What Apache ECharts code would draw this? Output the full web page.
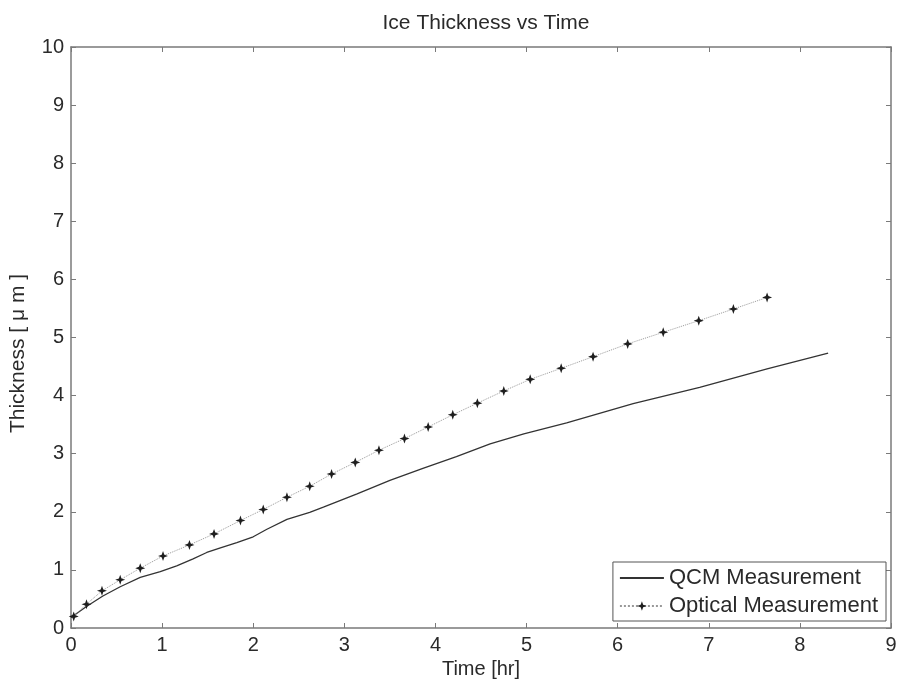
<!DOCTYPE html>
<html>
<head>
<meta charset="utf-8">
<script src="https://cdn.jsdelivr.net/npm/echarts@6/dist/echarts.min.js"></script>
<style>
  html, body { margin: 0; padding: 0; background: #fff; }
  #chart { width: 899px; height: 681px; }
</style>
</head>
<body>
<div id="chart"></div>
<script>
// QCM measurement (solid line)
const qcmTime = [0, 0.17, 0.35, 0.54, 0.76, 0.98, 1.16, 1.34, 1.49, 1.64, 1.82, 2.0, 2.15, 2.37, 2.62, 2.77, 3.14, 3.5, 3.87, 4.23, 4.6, 4.97, 5.44, 6.17, 6.9, 7.64, 8.31];
const qcmThickness = [0.18, 0.37, 0.55, 0.71, 0.87, 0.97, 1.07, 1.19, 1.3, 1.38, 1.47, 1.57, 1.7, 1.87, 1.99, 2.08, 2.31, 2.54, 2.75, 2.95, 3.17, 3.34, 3.53, 3.86, 4.14, 4.46, 4.73];

// Optical measurement (dotted line with markers)
const optTime = [0.03, 0.17, 0.34, 0.54, 0.76, 1.01, 1.3, 1.57, 1.86, 2.11, 2.37, 2.62, 2.86, 3.12, 3.38, 3.66, 3.92, 4.19, 4.46, 4.75, 5.04, 5.38, 5.73, 6.11, 6.5, 6.89, 7.27, 7.64];
const optThickness = [0.2, 0.41, 0.64, 0.83, 1.03, 1.24, 1.43, 1.62, 1.85, 2.04, 2.25, 2.44, 2.65, 2.85, 3.06, 3.26, 3.46, 3.67, 3.87, 4.08, 4.28, 4.47, 4.67, 4.89, 5.09, 5.29, 5.49, 5.69];

const xTicks = [0, 9, 1];
const yTicks = [0, 10, 1];

const font = '"Liberation Sans", Arial, sans-serif';
const axisColor = '#7a7a7a';
const textColor = '#2a2a2a';

const chart = echarts.init(document.getElementById('chart'));

const boxAxis = (extra) => Object.assign({
  type: 'value',
  axisLine: { show: true, onZero: false, lineStyle: { color: axisColor, width: 1.5 } },
  axisTick: { show: true, inside: true, length: 5, lineStyle: { color: axisColor } },
  splitLine: { show: false }
}, extra);

const option = {
  backgroundColor: '#fff',
  animation: false,
  title: {
    text: 'Ice Thickness vs Time',
    left: 481,
    textAlign: 'center',
    top: 8,
    textStyle: { fontFamily: font, fontSize: 21, fontWeight: 'normal', color: textColor }
  },
  grid: { left: 71, right: 8, top: 47, bottom: 53, outerBoundsMode: 'none', containLabel: false },
  legend: {
    orient: 'vertical',
    right: 13,
    bottom: 60,
    itemWidth: 44,
    itemHeight: 12,
    itemGap: 6,
    padding: [5, 8, 4, 6],
    borderColor: '#555',
    borderWidth: 1,
    borderRadius: 0,
    backgroundColor: '#fff',
    textStyle: { fontFamily: font, fontSize: 22, color: textColor },
    data: [
      { name: 'QCM Measurement', itemStyle: { opacity: 0 } },
      { name: 'Optical Measurement' }
    ]
  },
  xAxis: [
    boxAxis({
      min: xTicks[0], max: xTicks[1], interval: xTicks[2],
      position: 'bottom',
      name: 'Time [hr]',
      nameLocation: 'middle',
      nameGap: 27,
      nameTextStyle: { fontFamily: font, fontSize: 20, color: textColor },
      axisLabel: { fontFamily: font, fontSize: 20, color: textColor, margin: 7 }
    }),
    boxAxis({
      min: xTicks[0], max: xTicks[1], interval: xTicks[2],
      position: 'top',
      axisLabel: { show: false }
    })
  ],
  yAxis: [
    boxAxis({
      min: yTicks[0], max: yTicks[1], interval: yTicks[2],
      position: 'left',
      name: 'Thickness [ \u03bc m ]',
      nameLocation: 'middle',
      nameGap: 42,
      nameTextStyle: { fontFamily: font, fontSize: 21, color: textColor, padding: [0, 32, 0, 0] },
      axisLabel: { fontFamily: font, fontSize: 20, color: textColor, margin: 7 }
    }),
    boxAxis({
      min: yTicks[0], max: yTicks[1], interval: yTicks[2],
      position: 'right',
      axisLabel: { show: false }
    })
  ],
  series: [
    {
      name: 'QCM Measurement',
      type: 'line',
      data: qcmTime.map((t, i) => [t, qcmThickness[i]]),
      showSymbol: false,
      symbol: 'none',
      lineStyle: { color: '#333', width: 1.3 },
      itemStyle: { color: '#333' }
    },
    {
      name: 'Optical Measurement',
      type: 'line',
      data: optTime.map((t, i) => [t, optThickness[i]]),
      symbol: 'path://M0,-5 L1.3,-1.3 L5,0 L1.3,1.3 L0,5 L-1.3,1.3 L-5,0 L-1.3,-1.3Z',
      symbolSize: 10,
      itemStyle: { color: '#1e1e1e' },
      lineStyle: { color: '#999', width: 1, type: 'dotted' }
    }
  ]
};

chart.setOption(option);
</script>
</body>
</html>
